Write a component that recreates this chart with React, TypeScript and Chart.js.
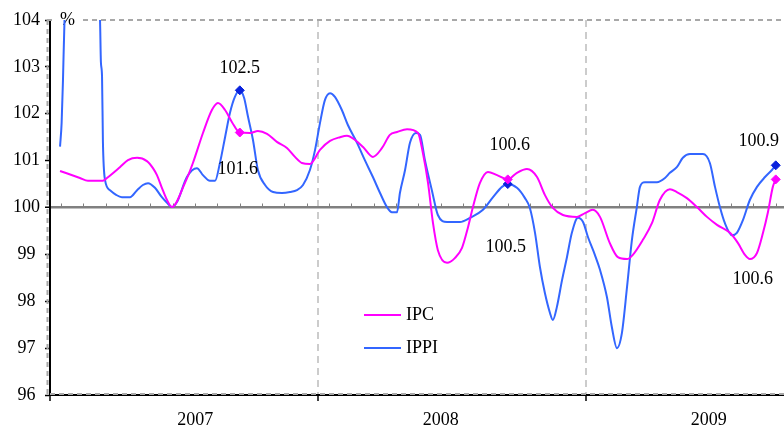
import React, { useEffect, useRef } from "react";
import { Chart, registerables } from "chart.js";

Chart.register(...registerables);

// ---------- data ----------
const seriesNames = ["IPC", "IPPI"];
const yearLabels = ["2007", "2008", "2009"];
const yearLabelMonths = [6.5, 17.5, 29.5];
const yearBoundaryMonths = [12, 24];
const yMin = 96;
const yMax = 104;
const monthSlots = 33; // monthly categories Jan 2007 .. Sep 2009

const ipcMonths = [0.45, 1.34, 1.7, 2.37, 2.55, 3.13, 3.49, 3.9, 4.34, 4.61, 4.79, 5.01, 5.24, 5.46, 6.04, 6.4, 6.85, 7.25, 7.52, 7.84, 8.15, 8.5, 8.96, 9.31, 9.72, 10.16, 10.61, 10.97, 11.28, 11.64, 12.09, 12.54, 12.99, 13.3, 13.66, 14.02, 14.46, 14.87, 15.22, 15.54, 15.99, 16.48, 16.7, 16.93, 17.15, 17.37, 17.78, 18.13, 18.45, 18.72, 18.94, 19.25, 19.61, 20.02, 20.5, 20.91, 21.36, 21.81, 22.16, 22.52, 22.97, 23.6, 23.96, 24.31, 24.63, 25.07, 25.43, 25.84, 26.1, 26.55, 26.96, 27.31, 27.76, 28.07, 28.52, 28.97, 29.42, 29.87, 30.45, 30.81, 31.12, 31.34, 31.66, 31.93, 32.15, 32.37, 32.5];
const ipcValues = [100.78, 100.63, 100.57, 100.57, 100.63, 100.86, 101.01, 101.06, 100.99, 100.84, 100.69, 100.42, 100.16, 100.01, 100.52, 100.95, 101.59, 102.08, 102.23, 102.08, 101.82, 101.6, 101.59, 101.63, 101.57, 101.4, 101.27, 101.08, 100.95, 100.93, 101.23, 101.42, 101.5, 101.53, 101.44, 101.29, 101.08, 101.27, 101.55, 101.61, 101.67, 101.59, 101.16, 100.52, 99.67, 99.09, 98.82, 98.92, 99.14, 99.58, 100.01, 100.52, 100.76, 100.69, 100.6, 100.74, 100.82, 100.65, 100.27, 99.99, 99.84, 99.8, 99.88, 99.95, 99.8, 99.24, 98.94, 98.9, 98.99, 99.31, 99.67, 100.16, 100.39, 100.33, 100.2, 100.01, 99.8, 99.63, 99.46, 99.24, 98.99, 98.9, 99.03, 99.46, 99.9, 100.44, 100.6];

const ippiMonths = [0.45, 0.52, 0.58, 0.65, 0.8, 1.5, 2.1, 2.24, 2.28, 2.33, 2.37, 2.46, 2.69, 2.96, 3.22, 3.58, 3.9, 4.16, 4.39, 4.7, 5.01, 5.24, 5.46, 5.69, 6.13, 6.58, 6.85, 7.16, 7.39, 7.61, 7.84, 8.06, 8.28, 8.5, 8.69, 8.87, 9.09, 9.31, 9.63, 9.99, 10.39, 10.75, 11.06, 11.33, 11.64, 11.87, 12.09, 12.31, 12.54, 12.76, 13.07, 13.34, 13.75, 14.1, 14.46, 14.78, 15.09, 15.31, 15.54, 15.67, 15.9, 16.12, 16.39, 16.57, 16.79, 17.1, 17.37, 17.78, 18.36, 18.81, 19.39, 19.84, 20.24, 20.5, 20.91, 21.27, 21.49, 21.72, 21.94, 22.16, 22.39, 22.52, 22.7, 22.93, 23.15, 23.37, 23.64, 23.87, 24.09, 24.4, 24.63, 24.94, 25.16, 25.39, 25.61, 25.84, 26.06, 26.28, 26.42, 26.64, 27.18, 27.54, 27.76, 28.07, 28.34, 28.66, 29.24, 29.55, 29.78, 30.0, 30.22, 30.54, 30.76, 31.03, 31.34, 31.66, 32.02, 32.33, 32.5];
const ippiValues = [101.3, 101.8, 102.7, 104.0, 105.0, 105.5, 105.0, 104.0, 103.1, 102.8, 101.4, 100.6, 100.37, 100.27, 100.22, 100.22, 100.37, 100.48, 100.52, 100.42, 100.22, 100.1, 100.01, 100.12, 100.65, 100.84, 100.69, 100.57, 100.57, 100.95, 101.5, 102.02, 102.36, 102.5, 102.34, 101.93, 101.44, 100.8, 100.48, 100.33, 100.31, 100.33, 100.37, 100.48, 100.8, 101.23, 101.8, 102.29, 102.44, 102.36, 102.08, 101.76, 101.38, 101.01, 100.65, 100.31, 100.01, 99.9, 99.9, 100.31, 100.8, 101.38, 101.59, 101.55, 101.01, 100.37, 99.84, 99.69, 99.69, 99.78, 99.95, 100.22, 100.44, 100.5, 100.42, 100.2, 99.99, 99.46, 98.73, 98.18, 97.75, 97.6, 97.88, 98.45, 98.94, 99.46, 99.78, 99.69, 99.37, 98.99, 98.67, 98.09, 97.45, 97.0, 97.32, 98.3, 99.31, 100.01, 100.44, 100.54, 100.54, 100.63, 100.74, 100.86, 101.06, 101.14, 101.14, 100.95, 100.44, 100.01, 99.67, 99.41, 99.46, 99.73, 100.16, 100.44, 100.65, 100.8, 100.9];

const markedMonths = [8.5, 20.5, 32.5];
const ipcMarkLabels = ["101.6", "100.6", "100.6"];
const ippiMarkLabels = ["102.5", "100.5", "100.9"];

// ---------- style ----------
const FONT = "'Liberation Serif', 'Times New Roman', serif";
const IPC_COLOR = "#ff00ff";
const IPPI_COLOR = "#3366ff";
const IPPI_MARK = "#0a22dd";
const labelOffsets = [
  [ { dx: -2, dy: 37 }, { dx: 2, dy: -34 }, { dx: -23, dy: 100 } ],
  [ { dx: 0, dy: -22 }, { dx: -2, dy: 63 }, { dx: -17, dy: -24 } ],
];

const near = (a: number, b: number) => Math.abs(a - b) < 1e-6;

const decorPlugin = {
  id: "decor",
  beforeDatasetsDraw(chart: any) {
    const { ctx, chartArea, scales } = chart;
    const { left, right, top, bottom } = chartArea;
    ctx.save();
    // dashed plot-area border
    ctx.strokeStyle = "#a8a8a8";
    ctx.lineWidth = 2;
    ctx.setLineDash([5, 4]);
    ctx.beginPath();
    ctx.moveTo(left - 3, top);
    ctx.lineTo(right, top);
    ctx.moveTo(left - 2.5, top);
    ctx.lineTo(left - 2.5, bottom);
    ctx.moveTo(left, bottom - 1);
    ctx.lineTo(right, bottom - 1);
    ctx.stroke();
    // minor ticks on the 100 line
    ctx.setLineDash([]);
    ctx.strokeStyle = "#808080";
    ctx.lineWidth = 1;
    const y100 = scales.y.getPixelForValue(100);
    ctx.beginPath();
    for (let k = 0; k < monthSlots; k++) {
      const px = Math.round(scales.x.getPixelForValue(k + 0.5)) + 0.5;
      ctx.moveTo(px, y100 - 4);
      ctx.lineTo(px, y100);
    }
    ctx.stroke();
    // % unit label
    ctx.fillStyle = "#ffffff";
    ctx.fillRect(left + 2, top - 9, 28, 17);
    ctx.fillStyle = "#000";
    ctx.font = `18px ${FONT}`;
    ctx.textAlign = "left";
    ctx.textBaseline = "middle";
    ctx.fillText("%", left + 10, top);
    ctx.restore();
  },
  afterDatasetsDraw(chart: any) {
    const { ctx } = chart;
    ctx.save();
    ctx.font = `18px ${FONT}`;
    ctx.fillStyle = "#000";
    ctx.textAlign = "center";
    ctx.textBaseline = "middle";
    chart.data.datasets.forEach((ds: any, di: number) => {
      const meta = chart.getDatasetMeta(di);
      const texts = di === 0 ? ipcMarkLabels : ippiMarkLabels;
      meta.data.forEach((el: any, i: number) => {
        const raw = ds.data[i];
        const m = markedMonths.findIndex((v) => near(v, raw.x));
        if (m >= 0) {
          const off = labelOffsets[di][m];
          ctx.fillText(texts[m], el.x + off.dx, el.y + off.dy);
        }
      });
    });
    // legend
    const colors = [IPC_COLOR, IPPI_COLOR];
    seriesNames.forEach((name, i) => {
      const ly = 315 + i * 33;
      ctx.strokeStyle = colors[i];
      ctx.lineWidth = 2;
      ctx.beginPath();
      ctx.moveTo(364, ly);
      ctx.lineTo(401, ly);
      ctx.stroke();
      ctx.textAlign = "left";
      ctx.fillText(name, 406, ly);
    });
    ctx.restore();
  },
};

export default function App() {
  const ref = useRef<HTMLCanvasElement>(null);
  useEffect(() => {
    const canvas = ref.current;
    if (!canvas) return;
    const toPoints = (xs: number[], ys: number[]) => xs.map((x, i) => ({ x, y: ys[i] }));
    const isMarked = (c: any) => c.raw && markedMonths.some((v) => near(v, c.raw.x));
    const xTickValues = [0, yearLabelMonths[0], yearBoundaryMonths[0], yearLabelMonths[1], yearBoundaryMonths[1], yearLabelMonths[2]];
    const isBoundary = (v: number) => yearBoundaryMonths.some((b) => near(b, v));
    const chart = new Chart(canvas, {
      type: "line",
      data: {
        datasets: [
          {
            label: seriesNames[0],
            data: toPoints(ipcMonths, ipcValues),
            borderColor: IPC_COLOR,
            backgroundColor: IPC_COLOR,
            borderWidth: 2,
            cubicInterpolationMode: "monotone",
            pointRadius: (c: any) => (isMarked(c) ? 4.5 : 0),
            pointStyle: "rectRot",
            pointBackgroundColor: IPC_COLOR,
            pointBorderColor: IPC_COLOR,
            pointBorderWidth: 1,
            fill: false,
          },
          {
            label: seriesNames[1],
            data: toPoints(ippiMonths, ippiValues),
            borderColor: IPPI_COLOR,
            backgroundColor: IPPI_COLOR,
            borderWidth: 2,
            cubicInterpolationMode: "monotone",
            pointRadius: (c: any) => (isMarked(c) ? 4.5 : 0),
            pointStyle: "rectRot",
            pointBackgroundColor: IPPI_MARK,
            pointBorderColor: IPPI_MARK,
            pointBorderWidth: 1,
            fill: false,
          },
        ],
      } as any,
      options: {
        responsive: false,
        animation: false,
        events: [],
        layout: { autoPadding: false, padding: { top: 20, left: 0, right: 0, bottom: 0 } },
        plugins: { legend: { display: false }, tooltip: { enabled: false } },
        scales: {
          x: {
            type: "linear",
            min: 0,
            max: 32.87,
            afterBuildTicks: (s: any) => {
              s.ticks = xTickValues.map((v) => ({ value: v }));
            },
            afterFit: (s: any) => {
              s.height = 35;
              s.paddingLeft = 0;
              s.paddingRight = 0;
            },
            ticks: {
              autoSkip: false,
              maxRotation: 0,
              padding: 8,
              color: "#000",
              font: { family: FONT, size: 18 },
              callback: (v: any) => {
                const idx = yearLabelMonths.findIndex((m) => near(m, Number(v)));
                return idx >= 0 ? yearLabels[idx] : "";
              },
            },
            grid: {
              color: (c: any) => (c.tick && isBoundary(c.tick.value) ? "#cccccc" : "rgba(0,0,0,0)"),
              lineWidth: 2,
              tickColor: (c: any) =>
                c.tick && (isBoundary(c.tick.value) || near(c.tick.value, 0)) ? "#000" : "rgba(0,0,0,0)",
              tickLength: 6,
              tickWidth: 1.5,
            },
            border: { display: true, color: "#000", width: 2, dash: [7, 5] },
          },
          y: {
            min: yMin,
            max: yMax,
            afterFit: (s: any) => {
              s.width = 50;
              s.paddingTop = 0;
              s.paddingBottom = 0;
            },
            ticks: {
              stepSize: 1,
              color: "#000",
              crossAlign: "center",
              padding: 5,
              font: { family: FONT, size: 18 },
            },
            grid: {
              color: (c: any) => (c.tick && c.tick.value === 100 ? "#808080" : "rgba(0,0,0,0)"),
              lineWidth: (c: any) => (c.tick && c.tick.value === 100 ? 2.5 : 1),
              tickColor: "#000",
              tickLength: 5,
              tickWidth: 1.5,
            },
            border: { color: "#000", width: 2 },
          },
        },
      } as any,
      plugins: [decorPlugin],
    });
    return () => chart.destroy();
  }, []);

  return (
    <div style={{ position: "fixed", left: 0, top: 0, width: 784, height: 430, background: "#fff" }}>
      <canvas ref={ref} width={784} height={430} style={{ display: "block", width: 784, height: 430 }} />
    </div>
  );
}
